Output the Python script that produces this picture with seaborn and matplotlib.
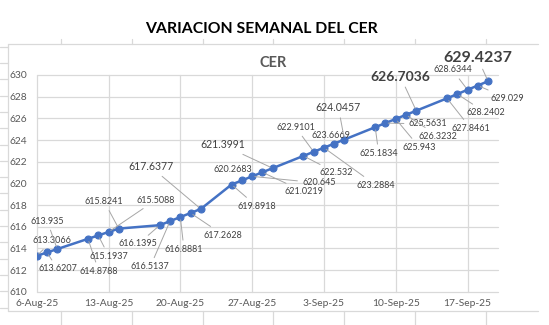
import matplotlib
matplotlib.use("Agg")
import matplotlib.pyplot as plt
import seaborn as sns
import pandas as pd
from matplotlib.lines import Line2D

# ---------------- data ----------------
dates = [
    "2025-08-06", "2025-08-07", "2025-08-08",
    "2025-08-11", "2025-08-12", "2025-08-13", "2025-08-14",
    "2025-08-18", "2025-08-19", "2025-08-20", "2025-08-21", "2025-08-22",
    "2025-08-25", "2025-08-26", "2025-08-27", "2025-08-28", "2025-08-29",
    "2025-09-01", "2025-09-02", "2025-09-03", "2025-09-04", "2025-09-05",
    "2025-09-08", "2025-09-09", "2025-09-10", "2025-09-11", "2025-09-12",
    "2025-09-15", "2025-09-16", "2025-09-17", "2025-09-18", "2025-09-19",
]
values = [
    613.3066, 613.6207, 613.935,
    614.8788, 615.1937, 615.5088, 615.8241,
    616.1395, 616.5137, 616.8881, 617.2628, 617.6377,
    619.8918, 620.2683, 620.645, 621.0219, 621.3991,
    622.532, 622.9101, 623.2884, 623.6669, 624.0457,
    625.1834, 625.5631, 625.943, 626.3232, 626.7036,
    627.8461, 628.2402, 628.6344, 629.029, 629.4237,
]
x_ticks = ["2025-08-06", "2025-08-13", "2025-08-20", "2025-08-27",
           "2025-09-03", "2025-09-10", "2025-09-17"]
x_tick_labels = ["6-Aug-25", "13-Aug-25", "20-Aug-25", "27-Aug-25",
                 "3-Sep-25", "10-Sep-25", "17-Sep-25"]
y_ticks = [610, 612, 614, 616, 618, 620, 622, 624, 626, 628, 630]
title_text = "VARIACION SEMANAL DEL CER"
series_name = "CER"

# ---------------- label placement (pixel offsets from each point) ----------------
label_offsets = [
    (15.5, 15), (10.7, -16.5), (-10, 28),
    (10.8, -32.3), (10.5, -20.6), (47.3, 32), (-14.5, 27),
    (-21.5, -18.8), (-19.8, -45.6), (3.7, -32.2), (32.7, -22), (-50.2, 42.3),
    (24.9, -21.5), (-9.4, 11.3), (66.7, -6.6), (41.6, -19.4), (-49.9, 23.2),
    (33.0, -17.0), (-18, 24.5), (51.8, -37.3), (-3.3, 8.6), (-6, 31.8),
    (3.5, -26.1), (42.4, -0.9), (23.5, -28.2), (32.1, -21.2), (-15.9, 34.2),
    (23.7, -30), (28.4, -18.6), (-15.1, 19.8), (29.6, -12.8), (-10.6, 23.6),
]
medium_labels = {11, 16, 21}
big_labels = {26: 10.0, 31: 11.5}

# ---------------- style ----------------
sns.set_style("white")
plt.rcParams["font.family"] = ["Lato", "DejaVu Sans"]

W, H = 549, 325
fig = plt.figure(figsize=(W / 100, H / 100), dpi=100)
fig.patch.set_facecolor("white")

def fx(px):
    return px / W

def fy(py):
    return 1 - py / H

left, right, top, bottom = 36.7, 498.3, 75.0, 291.7
ax = fig.add_axes([fx(left), fy(bottom), fx(right) - fx(left), fy(top) - fy(bottom)])

df = pd.DataFrame({"date": pd.to_datetime(dates), "value": values})
blue = "#4472C4"
sns.lineplot(data=df, x="date", y="value", ax=ax, color=blue, lw=1.8,
             marker="o", markersize=5, markeredgecolor=blue, markerfacecolor=blue,
             markeredgewidth=0.8, zorder=3)

ax.set_xlim(pd.Timestamp("2025-08-06"), pd.Timestamp("2025-09-20"))
ax.set_ylim(610, 630)
ax.set_xticks(pd.to_datetime(x_ticks))
ax.set_xticklabels(x_tick_labels)
ax.set_yticks(y_ticks)
ax.set_yticklabels([str(v) for v in y_ticks])
ax.tick_params(axis="both", length=0, labelsize=7.4, colors="#595959")
ax.tick_params(axis="y", pad=7)
ax.tick_params(axis="x", pad=5)
ax.set_xlabel("")
ax.set_ylabel("")
ax.grid(True, color="#D9D9D9", lw=0.9)
ax.set_axisbelow(True)
for s in ax.spines.values():
    s.set_visible(False)
for gl in ax.get_xgridlines() + ax.get_ygridlines():
    gl.set_clip_on(False)

# data labels
for i, (d, v) in enumerate(zip(df["date"], values)):
    dx, dy = label_offsets[i]
    txt = str(v)
    if i in big_labels:
        fs, fw = big_labels[i], "bold"
    elif i in medium_labels:
        fs, fw = 7.6, "normal"
    else:
        fs, fw = 6.5, "normal"
    dist = (dx ** 2 + dy ** 2) ** 0.5
    arrow = None
    if dist > 16:
        arrow = dict(arrowstyle="-", color="#A6A6A6", lw=0.7, shrinkA=1, shrinkB=2)
    ax.annotate(txt, xy=(d, v), xytext=(dx, dy), textcoords="offset pixels",
                ha="center", va="center", fontsize=fs, fontweight=fw, color="#404040",
                arrowprops=arrow, zorder=4, annotation_clip=False)

# titles
fig.text(fx(261.6), fy(28.7), title_text, ha="center", va="center",
         fontsize=11.3, fontweight="bold", color="#000000")
fig.text(fx(273.3), fy(63.3), series_name, ha="center", va="center",
         fontsize=10.5, fontweight="bold", color="#595959")

# spreadsheet / chart-area frame
frame_col = "#D9D9D9"
def fline(xs, ys, lw=0.9):
    fig.add_artist(Line2D([fx(x) for x in xs], [fy(y) for y in ys],
                          color=frame_col, lw=lw, transform=fig.transFigure))

fline([8, 538], [44, 44])
fline([8, 538], [311, 311])
fline([8, 8], [44, 311])
for cx in [61, 132, 203, 273, 344, 415, 486]:
    fline([cx, cx], [39, 44])
    fline([cx, cx], [311, 325])
ry = 46.7
while ry < 311:
    fline([0, 8], [ry, ry])
    ry += 16.3

fig.savefig("out.png", dpi=100)
